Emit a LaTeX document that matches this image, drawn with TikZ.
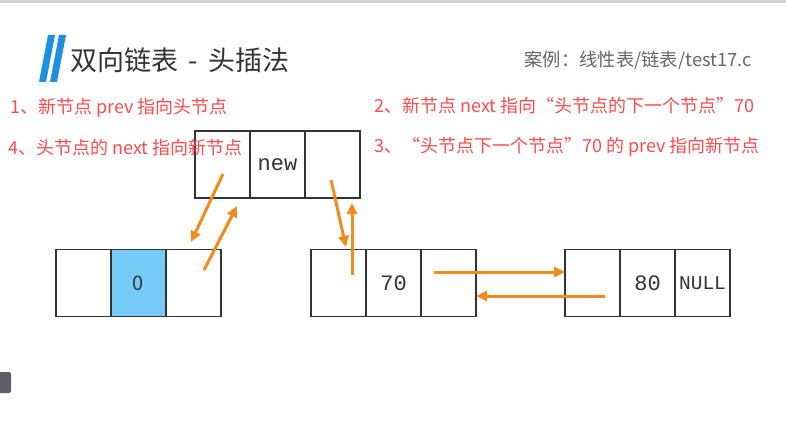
\documentclass[tikz,border=0pt]{standalone}
\usepackage{fontspec}
\newfontfamily\cjk{Noto Sans CJK SC}
\newfontfamily\mono{Liberation Mono}
\usetikzlibrary{arrows.meta, calc}
\definecolor{ink}{HTML}{333333}
\definecolor{inksec}{HTML}{666666}
\definecolor{note}{HTML}{FF4B4B}
\definecolor{link}{HTML}{F28A1C}
\definecolor{datafill}{HTML}{75CBF7}
\definecolor{accent}{HTML}{1E8FE1}
\definecolor{band}{HTML}{D4D4D4}
\definecolor{tab}{HTML}{5C6066}
\tikzset{
  cell/.style={draw=ink, line width=1.2pt, minimum width=55pt, minimum height=67pt, inner sep=0pt, outer sep=0pt},
  val/.style={font=\mono\fontsize{22}{22}\selectfont, text=ink},
  notetext/.style={anchor=west, inner sep=0pt, text=note, font=\cjk\fontsize{18}{18}\selectfont},
  linkarrow/.style={draw=link, line width=3pt, -{Triangle[length=11pt, width=10pt]}}
}

\begin{document}
\begin{tikzpicture}[x=1pt, y=-1pt]
      \useasboundingbox (0, 0) rectangle (786, 441);
      \fill[white] (0, 0) rectangle (786, 441);
      \fill[band] (0, 0) rectangle (786, 3);
      \fill[tab, rounded corners=2pt] (-4, 372) rectangle (11, 393);
      \fill[accent] (39, 82) -- (48, 35) -- (55, 35) -- (46, 82) -- cycle;
      \fill[accent] (50, 82) -- (59, 35) -- (66, 35) -- (57, 82) -- cycle;
      \node[anchor=west, inner sep=0pt, text=ink, font=\cjk\fontsize{27}{27}\selectfont] (title) at (70, 60) {双向链表 \,-\, 头插法};
      \node[anchor=east, inner sep=0pt, text=inksec, font=\cjk\fontsize{18.3}{18.3}\selectfont] (source) at (752, 60) {案例：线性表/链表/test17.c};
      \node[cell] (new-prev) at (222.5, 164.5) {};
      \node[cell, val] (new-data) at (277.5, 164.5) {new};
      \node[cell] (new-next) at (332.5, 164.5) {};
      \node[cell] (head-prev) at (83.5, 283) {};
      \node[cell, fill=datafill, font=\cjk\fontsize{20}{20}\selectfont, text=ink] (head-data) at (138.5, 283) {0};
      \node[cell] (head-next) at (193.5, 283) {};
      \node[cell] (n70-prev) at (338.5, 283) {};
      \node[cell, val] (n70-data) at (393.5, 283) {70};
      \node[cell] (n70-next) at (448.5, 283) {};
      \node[cell] (n80-prev) at (592.5, 283) {};
      \node[cell, val] (n80-data) at (647.5, 283) {80};
      \node[cell, val, font=\mono\fontsize{19.5}{19.5}\selectfont] (n80-next) at (702.5, 283) {NULL};
      \node[notetext] (step1) at (10, 108) {1、新节点 prev 指向头节点};
      \node[notetext] (step4) at (8, 148) {4、头节点的 next 指向新节点};
      \node[notetext] (step2) at (374, 106) {2、新节点 next 指向“头节点的下一个节点”70};
      \node[notetext] (step3) at (374, 147) {3、“头节点下一个节点”70 的 prev 指向新节点};
      \coordinate (a1s) at (223, 174);
      \coordinate (a1e) at (191, 242);
      \coordinate (a2s) at (204, 270);
      \coordinate (a2e) at (237, 206);
      \coordinate (a3s) at (331, 180);
      \coordinate (a3e) at (346, 247);
      \coordinate (a4s) at (352, 275);
      \coordinate (a4e) at (352, 203);
      \coordinate (a5s) at (434, 272);
      \coordinate (a5e) at (565, 272);
      \coordinate (a6s) at (605, 296);
      \coordinate (a6e) at (476, 296);
      \foreach \k in {1, ..., 6} {\draw[linkarrow] (a\k s) -- (a\k e);}
    \end{tikzpicture}
\end{document}
